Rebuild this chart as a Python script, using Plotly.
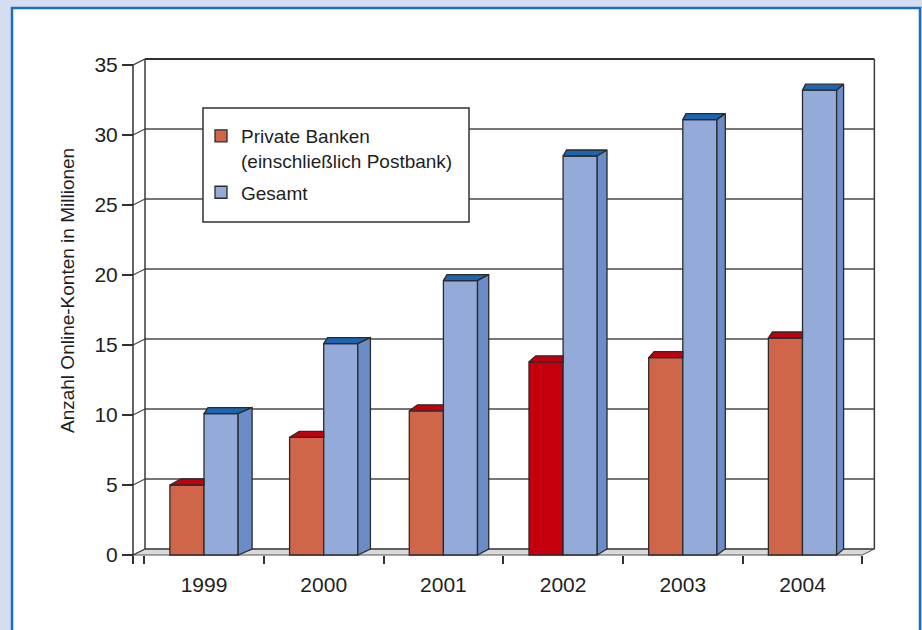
import plotly.graph_objects as go

# ---- data -------------------------------------------------------------
years = ["1999", "2000", "2001", "2002", "2003", "2004"]
private_banks = [5.0, 8.4, 10.3, 13.8, 14.1, 15.5]   # Mio. Online-Konten
total = [10.1, 15.1, 19.6, 28.5, 31.1, 33.2]         # Mio. Online-Konten
y_ticks = [0, 5, 10, 15, 20, 25, 30, 35]
highlight_year = "2002"

name_private = "Private Banken<br>(einschließlich Postbank)"
name_total = "Gesamt"
y_title = "Anzahl Online-Konten in Millionen"

# ---- styling ----------------------------------------------------------
RED = "#cf6649"
RED_HI = "#c3000b"
RED_TOP = "#c0000e"
BLUE = "#94aad8"
BLUE_SIDE = "#6b8cc7"
BLUE_TOP = "#1d65b3"
EDGE = "#2b2b2b"
GRID = "#4a4a4a"
TEXT = "#1e1e1e"
FONT = "Liberation Sans, Arial, sans-serif"

W, H = 922, 630
PL, PR, PT, PB = 110, 890, 45, 570      # plotting area in px
CAT_PX = 119.7                           # px per category
X0_PX = 204                              # px of first category centre
Y0_PX = 555                              # px of value 0 (front plane)
UNIT_PX = 14.0                           # px per million


def cat_x(px):
    return (px - X0_PX) / CAT_PX


def dxu(px):
    return px / CAT_PX


def dyu(px):
    return px / UNIT_PX


def paper_x(px):
    return (px - PL) / (PR - PL)


def paper_y(py):
    return (PB - py) / (PB - PT)


x_range = [cat_x(PL), cat_x(PR)]
y_range = [(Y0_PX - PB) / UNIT_PX, (Y0_PX - PT) / UNIT_PX]

XL = cat_x(133)                 # front edge of the value axis
XR = len(years) - 0.5           # front right corner of the floor
WDX, WDY = dxu(12), dyu(6)      # depth of walls / floor
BDY = dyu(6)                    # depth of the columns
BAR_W = 0.285
YMAX = y_ticks[-1]

xs = list(range(len(years)))
red_colors = [RED_HI if y == highlight_year else RED for y in years]

fig = go.Figure()

# front faces of the columns
fig.add_trace(go.Bar(
    x=xs, y=private_banks, base=0, offset=-BAR_W, width=BAR_W,
    name=name_private, legendgroup="private",
    marker=dict(color=red_colors, line=dict(color=EDGE, width=1.3)),
    hoverinfo="skip",
))
fig.add_trace(go.Bar(
    x=xs, y=total, base=0, offset=0, width=BAR_W,
    name=name_total, legendgroup="total",
    marker=dict(color=BLUE, line=dict(color=EDGE, width=1.3)),
    hoverinfo="skip",
))


def poly(points, fill):
    px = [p[0] for p in points] + [points[0][0]]
    py = [p[1] for p in points] + [points[0][1]]
    fig.add_trace(go.Scatter(
        x=px, y=py, mode="lines", fill="toself", fillcolor=fill,
        line=dict(color=EDGE, width=1.3), showlegend=False,
        hoverinfo="skip",
    ))


# tops and side faces
for i, (p, t) in enumerate(zip(private_banks, total)):
    side = dxu(14 - 1.4 * i)
    # red column top (its right part is hidden by the blue column)
    r0, r1 = i - BAR_W, i
    poly([(r0, p), (r1, p), (r1, p + BDY), (r0 + dxu(11 - 1.4 * i), p + BDY)],
         RED_TOP)
    # blue column top and side
    b0, b1 = i, i + BAR_W
    poly([(b0, t), (b1, t), (b1 + side, t + BDY), (b0 + dxu(4 - 0.2 * i), t + BDY)],
         BLUE_TOP)
    poly([(b1, t), (b1 + side, t + BDY), (b1 + side, BDY), (b1, 0)], BLUE_SIDE)

shapes = []
# white panel with blue frame
shapes.append(dict(
    type="rect", xref="paper", yref="paper", layer="below",
    x0=paper_x(12), x1=paper_x(920), y0=paper_y(8), y1=paper_y(650),
    fillcolor="white", line=dict(color="#1b6ec2", width=2.5),
))
# floor
shapes.append(dict(
    type="path", xref="x", yref="y", layer="below",
    path=f"M {XL} 0 L {XR} 0 L {XR + WDX} {WDY} L {XL + WDX} {WDY} Z",
    fillcolor="#dadada", line=dict(color="#555555", width=1),
))
# grid lines on the back wall with their connectors to the axis
for v in y_ticks:
    w = 2 if v == YMAX else 1.3
    c = "#303030" if v == YMAX else GRID
    shapes.append(dict(type="line", xref="x", yref="y", layer="below",
                       x0=XL, y0=v, x1=XL + WDX, y1=v + WDY,
                       line=dict(color=c, width=1.3)))
    shapes.append(dict(type="line", xref="x", yref="y", layer="below",
                       x0=XL + WDX, y0=v + WDY, x1=XR + WDX, y1=v + WDY,
                       line=dict(color=c, width=w)))
# wall edges
for xe in (XL + WDX, XR + WDX):
    shapes.append(dict(type="line", xref="x", yref="y", layer="below",
                       x0=xe, y0=WDY, x1=xe, y1=YMAX + WDY,
                       line=dict(color="#3a3a3a", width=1.5)))
# value axis line on the front plane
shapes.append(dict(type="line", xref="x", yref="y", layer="below",
                   x0=XL, y0=0, x1=XL, y1=YMAX,
                   line=dict(color="#303030", width=1.5)))
# legend frame
shapes.append(dict(
    type="rect", xref="paper", yref="paper", layer="above",
    x0=paper_x(203), x1=paper_x(469), y0=paper_y(108), y1=paper_y(222),
    fillcolor="white", line=dict(color="#303030", width=1.5),
))

boundaries = [XL] + [k - 0.5 for k in range(len(years) + 1)]

fig.update_layout(
    width=W, height=H,
    margin=dict(l=PL, r=W - PR, t=PT, b=H - PB, pad=0),
    paper_bgcolor="#d5def0",
    plot_bgcolor="rgba(0,0,0,0)",
    barmode="overlay",
    hovermode=False,
    font=dict(family=FONT, color=TEXT, size=19),
    shapes=shapes,
    xaxis=dict(
        range=x_range, anchor="free", position=paper_y(Y0_PX),
        tickmode="array", tickvals=xs, ticktext=years,
        ticks="outside", ticklen=11, tickcolor="rgba(0,0,0,0)",
        tickfont=dict(size=21, color=TEXT),
        showgrid=False, zeroline=False, showline=False,
        minor=dict(tickmode="array", tickvals=boundaries, ticks="outside",
                   ticklen=8, tickcolor="#303030", tickwidth=1.5,
                   showgrid=False),
    ),
    yaxis=dict(
        range=y_range, anchor="free", position=paper_x(133),
        tickmode="array", tickvals=y_ticks,
        ticks="outside", ticklen=11, tickcolor="#303030", tickwidth=1.5,
        tickfont=dict(size=21, color=TEXT),
        showgrid=False, zeroline=False, showline=False,
    ),
    legend=dict(
        x=paper_x(201), y=paper_y(117), xanchor="left", yanchor="top",
        bgcolor="rgba(0,0,0,0)", borderwidth=0,
        font=dict(size=19, color=TEXT), valign="top",
        traceorder="grouped", tracegroupgap=4,
    ),
    annotations=[dict(
        text=y_title, xref="paper", yref="paper",
        x=paper_x(67), y=paper_y(291), textangle=-90,
        showarrow=False, xanchor="center", yanchor="middle",
        font=dict(size=19, color=TEXT),
    )],
)

fig.write_html("out.html", config={"displayModeBar": False})
